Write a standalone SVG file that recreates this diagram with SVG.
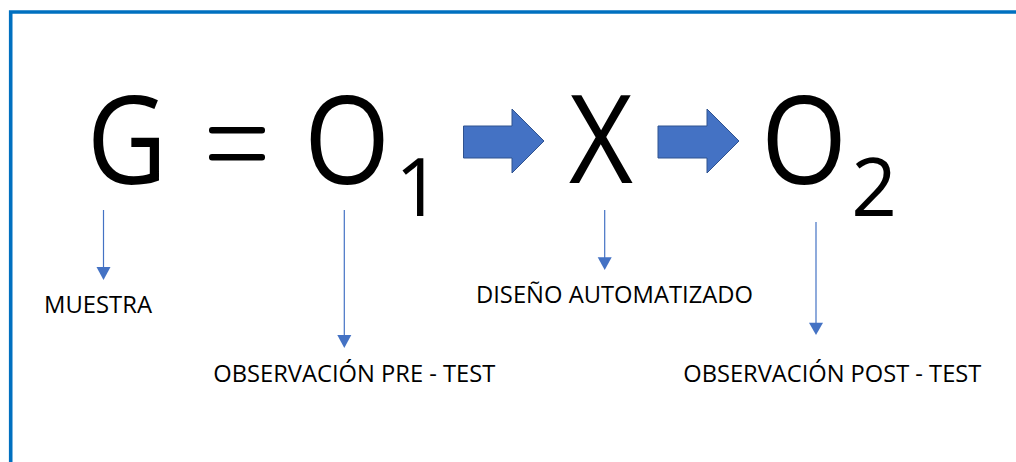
<svg xmlns="http://www.w3.org/2000/svg" width="1016" height="462" viewBox="0 0 1016 462">
<style>
.big{font-family:"Open Sans","Liberation Sans",sans-serif;font-size:123px;fill:#000;text-anchor:middle}
.sub{font-family:"Open Sans","Liberation Sans",sans-serif;font-size:80px;fill:#000;text-anchor:middle}
.lbl{font-family:"Open Sans","Liberation Sans",sans-serif;font-size:23.5px;fill:#000}
.conn{stroke:#4472C4;stroke-width:1.2;fill:none}
.head{fill:#4472C4}
.block{fill:#4472C4;stroke:#2F528F;stroke-width:1}
</style>
<rect width="1016" height="462" fill="#fff"/>
<g id="frame">
<path d="M10.7 462 V12 H1016" fill="none" stroke="#0070C0" stroke-width="3.6"/>
</g>
<g id="formula">
<g id="G"><text class="big" transform="translate(127 0) scale(0.9 1)" x="0" y="184">G</text></g>
<g id="eq"><rect x="209" y="127" width="56" height="6.5" rx="3" fill="#000"/><rect x="209" y="154" width="56" height="6.5" rx="3" fill="#000"/></g>
<g id="O1"><text class="big" transform="translate(347 0) scale(0.9 1)" x="0" y="184">O</text><text class="sub" x="418" y="216">1</text></g>
<g id="blockArrow1"><path class="block" d="M463.5 126 H512 V109 L544 141 L512 173 V158 H463.5 Z"/></g>
<g id="X"><text class="big" transform="translate(601 0) scale(0.9 1)" x="0" y="183">X</text></g>
<g id="blockArrow2"><path class="block" d="M658 126 H707 V109 L739 141 L707 173 V158 H658 Z"/></g>
<g id="O2"><text class="big" transform="translate(804 0) scale(0.9 1)" x="0" y="184">O</text><text class="sub" x="874" y="216">2</text></g>
</g>
<g id="connectors">
<line class="conn" x1="103.5" y1="210" x2="103.5" y2="268"/>
<path class="head" d="M96.5 267 H110.5 L103.5 280 Z"/>
<line class="conn" x1="344.3" y1="210" x2="344.3" y2="336"/>
<path class="head" d="M337.3 335 H351.3 L344.3 348 Z"/>
<line class="conn" x1="604.7" y1="210" x2="604.7" y2="258"/>
<path class="head" d="M597.7 257.3 H611.7 L604.7 270 Z"/>
<line class="conn" x1="816" y1="222" x2="816" y2="324"/>
<path class="head" d="M809 322.7 H823 L816 335 Z"/>
</g>
<g id="label-muestra"><text class="lbl" x="44" y="313.3" textLength="108" lengthAdjust="spacingAndGlyphs">MUESTRA</text></g>
<g id="label-pre"><text class="lbl" x="213.3" y="381.7" textLength="282" lengthAdjust="spacingAndGlyphs">OBSERVACIÓN PRE - TEST</text></g>
<g id="label-diseno"><text class="lbl" x="476" y="303.3" textLength="277" lengthAdjust="spacingAndGlyphs">DISEÑO AUTOMATIZADO</text></g>
<g id="label-post"><text class="lbl" x="683.3" y="381.7" textLength="298" lengthAdjust="spacingAndGlyphs">OBSERVACIÓN POST - TEST</text></g>
</svg>
